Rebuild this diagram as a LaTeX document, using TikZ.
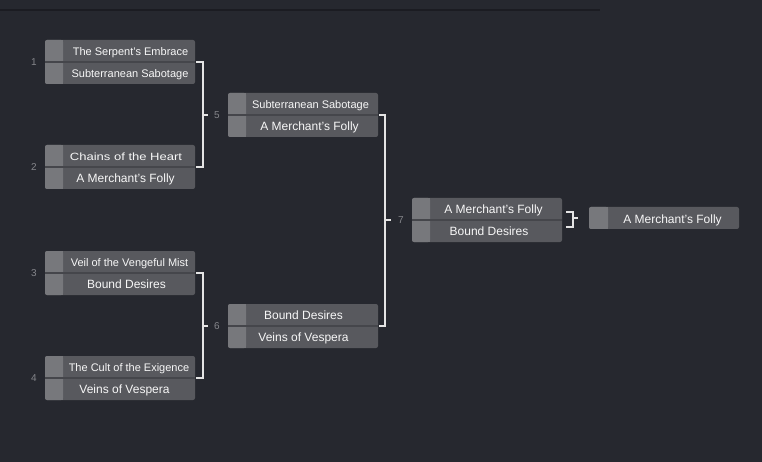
\documentclass[tikz,border=0pt]{standalone}
\usepackage{fontspec}
\setmainfont{Liberation Sans}
\usetikzlibrary{calc}
\definecolor{bgc}{HTML}{26282F}
\definecolor{boxc}{HTML}{58595E}
\definecolor{seedc}{HTML}{77787C}
\definecolor{divc}{HTML}{45464B}
\definecolor{txtc}{HTML}{F7F7F7}
\definecolor{connc}{HTML}{E4E4E4}
\definecolor{numc}{HTML}{85868B}
\definecolor{topc}{HTML}{1B1C22}
\newcommand\fbig{\fontsize{12}{14}\selectfont}
\newcommand\fsmall{\fontsize{11}{13}\selectfont}
\tikzset{
  matchbg/.style={rectangle, fill=boxc, rounded corners=2pt, minimum width=150pt, minimum height=44pt, inner sep=0pt, outer sep=0pt},
  finalbg/.style={matchbg, minimum height=22pt},
  seedfill/.style={fill=seedc},
  divider/.style={draw=divc, line width=1.5pt},
  slot/.style={anchor=base, inner sep=0pt, text=txtc},
  conn/.style={draw=connc, line width=1.6pt},
  num/.style={text=numc, font=\fontsize{10}{12}\selectfont, inner sep=0pt},
  topline/.style={draw=topc, line width=1.5pt}
}
% #1 name, #2 x left, #3 y top, #4 top text, #5 top center x, #6 bottom text, #7 bottom center x
\newcommand\bmatch[7]{%
  \node[matchbg] (#1) at (#2+75,#3+22) {};
  \fill[seedfill, rounded corners=2pt] (#1.north west) rectangle ([xshift=18pt]#1.south west);
  \fill[seedfill] ([xshift=10pt]#1.north west) rectangle ([xshift=18pt]#1.south west);
  \draw[divider] (#1.west) -- (#1.east);
  \node[slot] (#1a) at (#5,#3+15.5) {#4};
  \node[slot] (#1b) at (#7,#3+37.5) {#6};
}
\begin{document}
\begin{tikzpicture}[x=1pt,y=-1pt]
\fill[bgc] (0,0) rectangle (762,462);
\useasboundingbox (0,0) rectangle (762,462);
\draw[topline] (0,10) -- (600,10);

\bmatch{m1}{45}{40}{\fsmall The Serpent's Embrace}{130.5}{\fsmall Subterranean Sabotage}{130}
\bmatch{m2}{45}{145}{\fontsize{10.5}{12}\selectfont\scalebox{1.24}[1]{Chains of the Heart}}{126}{\fbig A Merchant's Folly}{125.5}
\bmatch{m3}{45}{251}{\fsmall Veil of the Vengeful Mist}{129.5}{\fbig Bound Desires}{126.5}
\bmatch{m4}{45}{356}{\fsmall The Cult of the Exigence}{129}{\fbig Veins of Vespera}{124.5}
\bmatch{m5}{228}{93}{\fsmall Subterranean Sabotage}{310.5}{\fbig A Merchant's Folly}{309.5}
\bmatch{m6}{228}{304}{\fbig Bound Desires}{303.5}{\fbig Veins of Vespera}{303.5}
\bmatch{m7}{412}{198}{\fbig A Merchant's Folly}{493.5}{\fbig Bound Desires}{489}

\node[finalbg] (f) at (664,218) {};
\fill[seedfill, rounded corners=2pt] (f.north west) rectangle ([xshift=19pt]f.south west);
\fill[seedfill] ([xshift=10pt]f.north west) rectangle ([xshift=19pt]f.south west);
\node[slot] (fa) at (672.5,223) {\fbig A Merchant's Folly};

% round labels
\node[num] (n1) at ([xshift=-11pt]m1.west) {1};
\node[num] (n2) at ([xshift=-11pt]m2.west) {2};
\node[num] (n3) at ([xshift=-11pt]m3.west) {3};
\node[num] (n4) at ([xshift=-11pt]m4.west) {4};
\node[num] (n5) at ([xshift=-11pt]m5.west) {5};
\node[num] (n6) at ([xshift=-11pt]m6.west) {6};
\node[num] (n7) at ([xshift=-11pt]m7.west) {7};

% brackets
\draw[conn] ([xshift=1pt]m1.east) -- ++(7,0) coordinate (b5) |- ([xshift=1pt]m2.east);
\draw[conn] (b5 |- m5.west) -- ++(5,0);
\draw[conn] ([xshift=1pt]m3.east) -- ++(7,0) coordinate (b6) |- ([xshift=1pt]m4.east);
\draw[conn] (b6 |- m6.west) -- ++(5,0);
\draw[conn] ([xshift=1pt]m5.east) -- ++(6,0) coordinate (b7) |- ([xshift=1pt]m6.east);
\draw[conn] (b7 |- m7.west) -- ++(6,0);
\draw[conn] ([xshift=4pt,yshift=8pt]m7.east) -- ++(7,0) coordinate (bf) -- ++(0,15) -- ++(-7,0);
\draw[conn] (bf |- f.west) -- ++(5,0);
\end{tikzpicture}
\end{document}
